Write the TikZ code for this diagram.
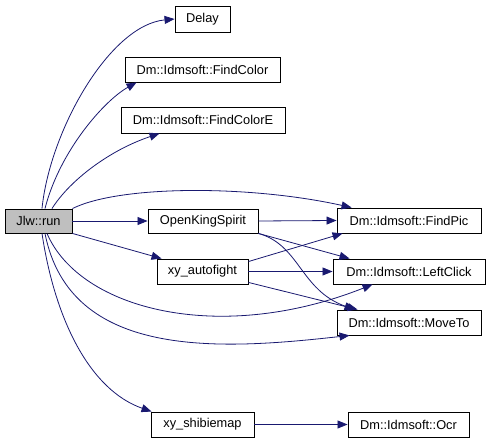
\documentclass[tikz,border=0pt]{standalone}
\usepackage{fontspec}
\setmainfont{Liberation Sans}
\usetikzlibrary{arrows.meta}
\definecolor{edgeblue}{RGB}{25,25,112}
\definecolor{rungray}{RGB}{191,191,191}
\begin{document}
\begin{tikzpicture}[x=1pt,y=-1pt,
  box/.style={draw=black,line width=0.9pt,fill=white,inner sep=0pt,
    font=\fontsize{12.8}{15}\selectfont,text=black},
  edge/.style={draw=edgeblue,line width=0.8pt,-{Triangle[length=10pt,width=8pt]}}]
\useasboundingbox (0,0) rectangle (491,443);
% nodes
\node[box,fill=rungray,minimum width=67pt,minimum height=24pt] (run) at (38.5,221) {Jlw::run};
\node[box,minimum width=55pt,minimum height=26pt] (delay) at (202.5,19) {Delay};
\node[box,minimum width=155pt,minimum height=25pt] (fc) at (202.5,69.5) {Dm::Idmsoft::FindColor};
\node[box,minimum width=164pt,minimum height=26pt] (fce) at (203,120) {Dm::Idmsoft::FindColorE};
\node[box,minimum width=110pt,minimum height=24pt] (oks) at (203,221) {OpenKingSpirit};
\node[box,minimum width=91pt,minimum height=25pt] (af) at (202.5,271.5) {xy\_autofight};
\node[box,minimum width=144pt,minimum height=25pt] (fp) at (409,220.5) {Dm::Idmsoft::FindPic};
\node[box,minimum width=152pt,minimum height=25pt] (lc) at (409,271.5) {Dm::Idmsoft::LeftClick};
\node[box,minimum width=144pt,minimum height=25pt] (mt) at (409,322.5) {Dm::Idmsoft::MoveTo};
\node[box,minimum width=103pt,minimum height=25pt] (sm) at (202.5,424.5) {xy\_shibiemap};
\node[box,minimum width=121pt,minimum height=25pt] (ocr) at (408.5,424.5) {Dm::Idmsoft::Ocr};
% edges from run
\draw[edge] ([xshift=3.5pt]run.north) .. controls (50,130) and (110,25) .. (delay.west);
\draw[edge] ([xshift=6.5pt]run.north) .. controls (60,150) and (105,100) .. ([xshift=12pt]fc.south west);
\draw[edge] ([xshift=13.5pt]run.north) .. controls (70,180) and (110,150) .. ([xshift=39pt]fce.south west);
\draw[edge] (run.north east) .. controls (120,185) and (250,185) .. ([xshift=15pt]fp.north west);
\draw[edge] (run.east) -- (oks.west);
\draw[edge] (run.south east) -- ([xshift=5pt]af.north west);
\draw[edge] ([xshift=8.5pt]run.south) .. controls (80,310) and (220,345) .. ([xshift=40pt]lc.south west);
\draw[edge] ([xshift=6.5pt]run.south) .. controls (70,360) and (220,350) .. ([xshift=13pt]mt.south west);
\draw[edge] ([xshift=3.5pt]run.south) .. controls (55,320) and (90,390) .. ([xshift=1pt]sm.north west);
% edges from OpenKingSpirit
\draw[edge] (oks.east) -- (fp.west);
\draw[edge] (oks.south east) -- ([xshift=17pt]lc.north west);
\draw[edge] (oks.south east) .. controls (300,245) and (300,290) .. ([xshift=18pt]mt.north west);
% edges from xy_autofight
\draw[edge] ([yshift=-3pt]af.north east) -- ([xshift=6pt]fp.south west);
\draw[edge] (af.east) -- (lc.west);
\draw[edge] ([yshift=2pt]af.south east) -- ([xshift=21pt]mt.north west);
% edge from xy_shibiemap
\draw[edge] (sm.east) -- (ocr.west);
\end{tikzpicture}
\end{document}
